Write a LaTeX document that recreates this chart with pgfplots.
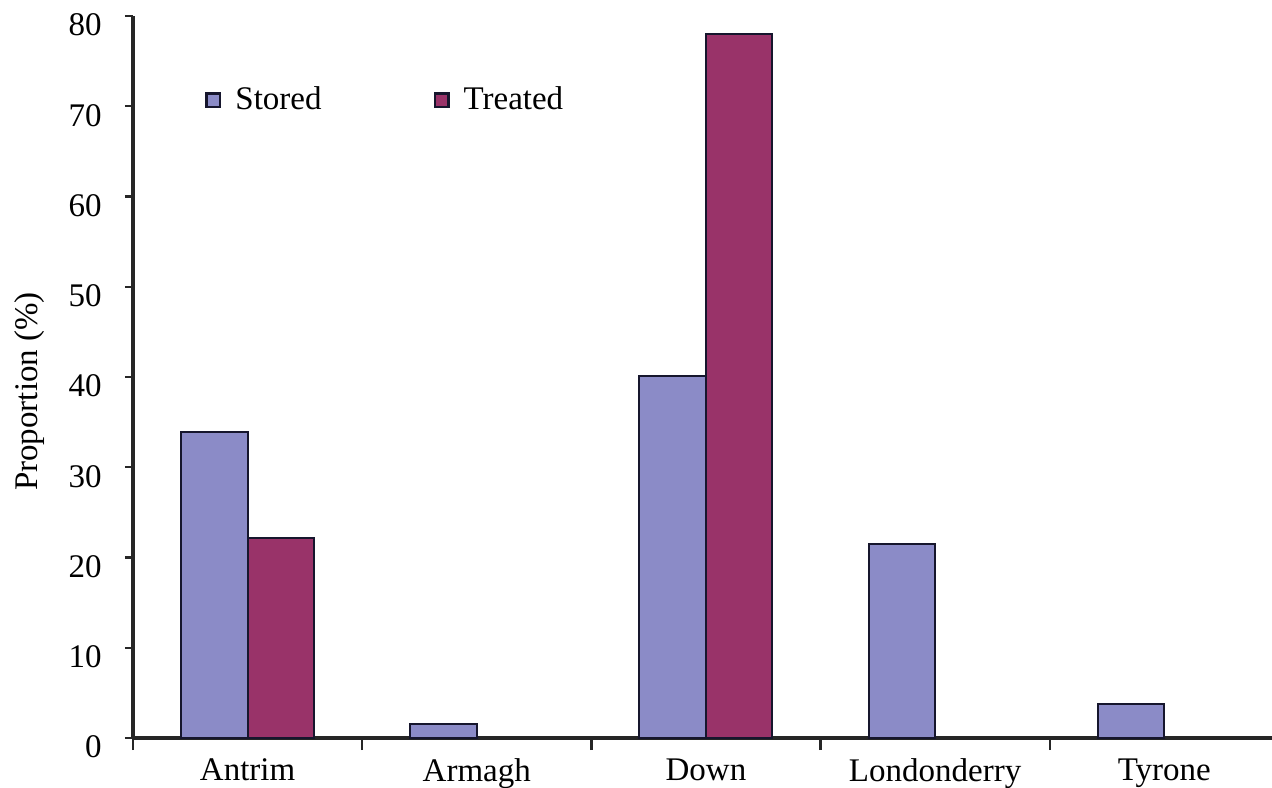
\documentclass[border=0pt]{standalone}
\usepackage{fontspec}
\setmainfont{Liberation Serif}
\usepackage{pgfplots}
\pgfplotsset{compat=1.18}
\definecolor{stored}{RGB}{139,139,199}
\definecolor{treated}{RGB}{153,51,105}
\definecolor{edge}{RGB}{22,22,45}
\begin{document}
\fontsize{16.5pt}{19pt}\selectfont
\begin{tikzpicture}
\begin{axis}[
  scale only axis, width=569.5pt, height=361pt,
  xmin=-0.5, xmax=4.47, ymin=0, ymax=80,
  axis x line*=bottom, axis y line*=left,
  axis line style={line width=1.6pt, color=black!85},
  ytick={0,10,...,80},
  xtick={0,1,2,3,4},
  xticklabels={Antrim,Armagh,Down,Londonderry,Tyrone},
  minor xtick={-0.5,0.5,1.5,2.5,3.5},
  tick align=outside,
  major tick length=4pt,
  minor tick length=6pt,
  major x tick style={draw=none},
  every tick/.style={line width=1.2pt, color=black!85},
  /pgf/number format/assume math mode=true,
  ticklabel style={font=\fontsize{16.5pt}{19pt}\selectfont},
  yticklabel style={xshift=-6pt, yshift=-4.5pt},
  xticklabel style={yshift=-6pt, inner sep=0pt},
  ylabel={Proportion (\%)},
  ylabel style={font=\fontsize{16.5pt}{19pt}\selectfont, at={(axis description cs:-0.0904,0.48)}, anchor=center},
  ybar, bar width=0.29,
  legend columns=2,
  legend style={draw=none, fill=none, at={(axis description cs:0.058,0.883)}, anchor=west,
    font=\fontsize{16.5pt}{19pt}\selectfont,
    /tikz/every even column/.append style={column sep=54pt},
    /tikz/every odd column/.append style={column sep=5pt}},
  legend image code/.code={\draw[#1, line width=1.2pt] (0pt,-3.4pt) rectangle (6.8pt,3.4pt);},
]
\addplot[fill=stored, draw=edge, line width=1pt, bar shift=-0.145]
  coordinates {(0,33.9) (1,1.55) (2,40.1) (3,21.5) (4,3.8)};
\addplot[fill=treated, draw=edge, line width=1pt, bar shift=0.145]
  coordinates {(0,22.2) (2,78.0)};
\legend{Stored,Treated}
\end{axis}
\pgfresetboundingbox
\path[use as bounding box] ([shift={(-66.5pt,-24.5pt)}]current axis.south west) rectangle ([shift={(0pt,8pt)}]current axis.north east);
\end{tikzpicture}
\end{document}
